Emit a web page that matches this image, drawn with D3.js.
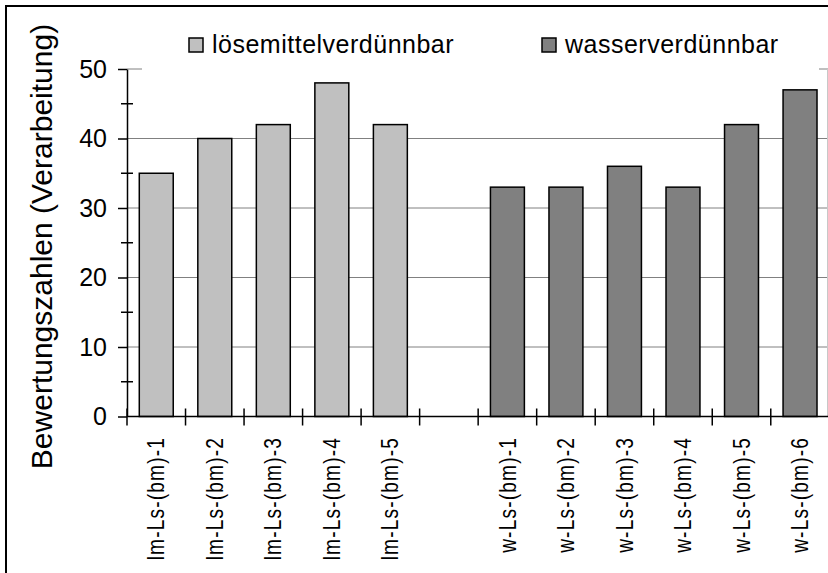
<!DOCTYPE html>
<html>
<head>
<meta charset="utf-8">
<script src="https://cdn.jsdelivr.net/npm/d3@7"></script>
<style>
  body { margin: 0; background: #fff; }
  svg { display: block; }
</style>
</head>
<body>
<svg id="chart" width="828" height="573"></svg>
<script>
// Product groups and their scores
const lmCategories = ["lm-Ls-(bm)-1", "lm-Ls-(bm)-2", "lm-Ls-(bm)-3", "lm-Ls-(bm)-4", "lm-Ls-(bm)-5"];
const wCategories  = ["w-Ls-(bm)-1", "w-Ls-(bm)-2", "w-Ls-(bm)-3", "w-Ls-(bm)-4", "w-Ls-(bm)-5", "w-Ls-(bm)-6"];
const lmValues = [35, 40, 42, 48, 42];
const wValues  = [33, 33, 36, 33, 42, 47];
const seriesNames = ["lösemittelverdünnbar", "wasserverdünnbar"];
const yTicks = [0, 10, 20, 30, 40, 50];
const yMinorTicks = [5, 15, 25, 35, 45];
const gapKey = " ";
const yTitle = "Bewertungszahlen (Verarbeitung)";

const colors = ["#c0c0c0", "#808080"];
const font = "'Liberation Sans', Arial, sans-serif";

// one empty slot separates the two groups
const slots = [...lmCategories, gapKey, ...wCategories];
const rows = [
  ...lmCategories.map((c, i) => ({ cat: c, value: lmValues[i], series: 0 })),
  ...wCategories.map((c, i) => ({ cat: c, value: wValues[i], series: 1 }))
];

const svg = d3.select("#chart");
const plotLeft = 127, plotRight = 829.3, plotTop = 69, plotBottom = 416.5;

const x = d3.scaleBand().domain(slots).range([plotLeft, plotRight]).padding(0);
const y = d3.scaleLinear().domain([0, 50]).range([plotBottom, plotTop]);
const barW = x.bandwidth() * 0.58;

// outer frame
svg.append("rect")
  .attr("x", 6).attr("y", 6).attr("width", 900).attr("height", 900)
  .attr("fill", "none").attr("stroke", "#000").attr("stroke-width", 2);

// horizontal gridlines
svg.append("g").selectAll("line")
  .data(yTicks.filter(d => d > 0))
  .join("line")
  .attr("x1", plotLeft).attr("x2", plotRight)
  .attr("y1", d => y(d)).attr("y2", d => y(d))
  .attr("stroke", "#808080").attr("stroke-width", 1);

// plot area right edge
svg.append("line")
  .attr("x1", 827.5).attr("x2", 827.5)
  .attr("y1", y(50)).attr("y2", y(0))
  .attr("stroke", "#c8c8c8").attr("stroke-width", 1);

// legend (white box over the top gridline)
svg.append("rect")
  .attr("x", 142).attr("y", 22).attr("width", 677).attr("height", 52)
  .attr("fill", "#fff");
const legendItems = [{ mx: 189, tx: 212 }, { mx: 542, tx: 565 }];
const legend = svg.append("g").selectAll("g")
  .data(seriesNames)
  .join("g");
legend.append("rect")
  .attr("x", (d, i) => legendItems[i].mx).attr("y", 38)
  .attr("width", 14).attr("height", 14)
  .attr("fill", (d, i) => colors[i])
  .attr("stroke", "#000").attr("stroke-width", 1.5);
legend.append("text")
  .attr("x", (d, i) => legendItems[i].tx).attr("y", 52.5)
  .attr("font-family", font).attr("font-size", 25)
  .attr("letter-spacing", 0.5)
  .attr("fill", "#000")
  .text(d => d);

// bars
svg.append("g").selectAll("rect")
  .data(rows)
  .join("rect")
  .attr("x", d => x(d.cat) + (x.bandwidth() - barW) / 2)
  .attr("y", d => y(d.value))
  .attr("width", barW)
  .attr("height", d => y(0) - y(d.value))
  .attr("fill", d => colors[d.series])
  .attr("stroke", "#000").attr("stroke-width", 1.5);

// y axis
const yAxis = svg.append("g")
  .attr("transform", `translate(${plotLeft},0)`)
  .call(d3.axisLeft(y).tickValues(yTicks).tickSize(9).tickSizeOuter(0).tickPadding(11));
yAxis.select(".domain").attr("stroke", "#000").attr("stroke-width", 1.5);
yAxis.selectAll(".tick line").attr("stroke", "#000").attr("stroke-width", 1.5);
yAxis.selectAll(".tick text")
  .attr("font-family", font).attr("font-size", 25).attr("fill", "#000");

// minor ticks crossing the y axis
svg.append("g").selectAll("line")
  .data(yMinorTicks)
  .join("line")
  .attr("x1", plotLeft - 6).attr("x2", plotLeft + 6)
  .attr("y1", d => y(d)).attr("y2", d => y(d))
  .attr("stroke", "#000").attr("stroke-width", 1.5);

// x axis baseline and category boundary ticks
svg.append("line")
  .attr("x1", plotLeft).attr("x2", plotRight)
  .attr("y1", y(0)).attr("y2", y(0))
  .attr("stroke", "#000").attr("stroke-width", 1.5);
svg.append("g").selectAll("line")
  .data(d3.range(slots.length + 1))
  .join("line")
  .attr("x1", i => plotLeft + i * x.step()).attr("x2", i => plotLeft + i * x.step())
  .attr("y1", y(0) - 8).attr("y2", y(0) + 9)
  .attr("stroke", "#000").attr("stroke-width", 1.5);

// category labels, set in a condensed width
svg.append("g").selectAll("text")
  .data(slots.filter(s => s !== gapKey))
  .join("text")
  .attr("transform", d => `translate(${x(d) + x.bandwidth() / 2},437) rotate(-90) scale(0.78,1)`)
  .attr("text-anchor", "end")
  .attr("dy", "0.33em")
  .attr("font-family", font).attr("font-size", 24.5)
  .attr("letter-spacing", 1.5)
  .attr("fill", "#000")
  .text(d => d);

// y axis title
svg.append("text")
  .attr("transform", "translate(51.7,246.5) rotate(-90)")
  .attr("text-anchor", "middle")
  .attr("font-family", font).attr("font-size", 30)
  .attr("fill", "#000")
  .text(yTitle);
</script>
</body>
</html>
